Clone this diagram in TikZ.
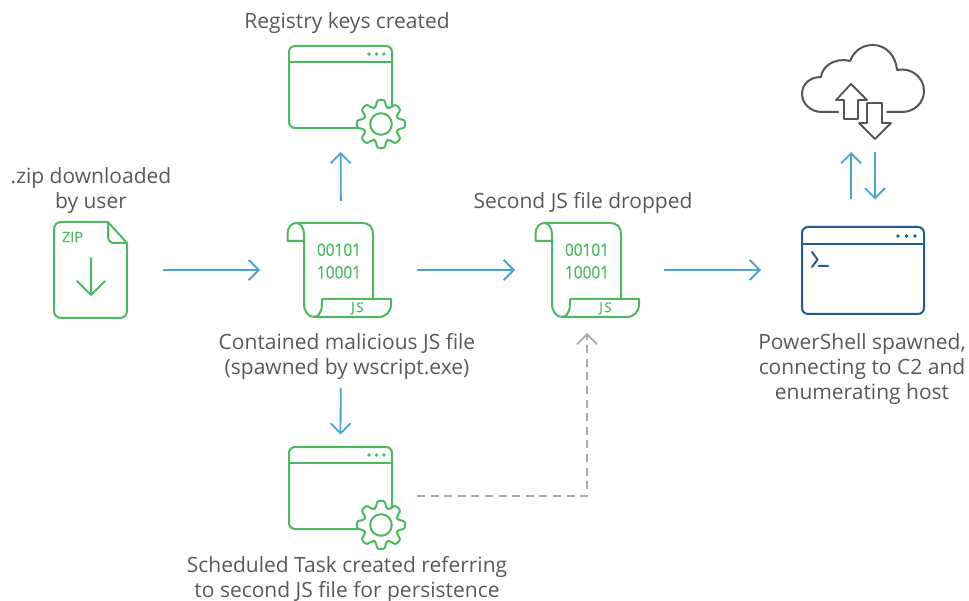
\documentclass[tikz,border=0pt]{standalone}
\usepackage{fontspec}
\setmainfont{Open Sans}
\newfontfamily\iconfont[FakeBold=0.6]{Open Sans}
\newfontfamily\codefont[FakeBold=0.6,FakeStretch=0.88]{Open Sans}
\usetikzlibrary{arrows.meta}
\definecolor{grn}{HTML}{4DB85F}
\definecolor{blu}{HTML}{4BA3CF}
\definecolor{nvy}{HTML}{1F5C92}
\definecolor{txt}{HTML}{58595B}
\definecolor{gry}{HTML}{ABABAB}
\definecolor{cld}{HTML}{555555}
\tikzset{
  x=1pt,y=-1pt,
  flow/.style={draw=blu,line width=1.8pt,-{Straight Barb[length=10pt,width=20pt,line width=1.8pt]}},
  dashflow/.style={draw=gry,line width=1.8pt,dash pattern=on 8pt off 5.6pt,-{Straight Barb[length=10pt,width=20pt,line width=1.8pt]}},
  lab/.style={font=\fontsize{21}{25}\selectfont,text=txt,align=center,inner sep=0pt},
  iconbox/.style={inner sep=0pt,outer sep=0pt,draw=none,rectangle},
  gline/.style={draw=grn,line width=2pt,line join=round,line cap=round},
  nline/.style={draw=nvy,line width=2pt,line join=round,line cap=round},
  cline/.style={draw=cld,line width=2pt,line join=round},
  code/.style={font=\codefont\fontsize{17.5}{22.5}\selectfont,text=grn,inner sep=0pt,align=center},
}
\newcommand{\gearicon}[2]{%
  \begin{scope}[shift={(#1,#2)}]
    \gdef\gearp{}%
    \foreach \a in {0,45,...,315}{%
      \pgfmathsetmacro\pa{\a-17}\pgfmathsetmacro\pb{\a-9}%
      \pgfmathsetmacro\pc{\a+9}\pgfmathsetmacro\pd{\a+17}%
      \xdef\gearp{\gearp (\pa:17.5) -- (\pb:24.5) -- (\pc:24.5) -- (\pd:17.5) -- }%
    }%
    \edef\gearcmd{\noexpand\draw[gline,fill=white,rounded corners=2.5pt] \gearp cycle;}\gearcmd
    \draw[gline] (0,0) circle (10.8);
  \end{scope}}
\newcommand{\windowicon}[1]{%
  \begin{scope}[shift={(0,#1)}]
    \draw[gline,rounded corners=6pt] (289,46) rectangle (392,128);
    \draw[gline] (289,62) -- (392,62);
    \fill[grn] (369,54) circle (1.8) (376.5,54) circle (1.8) (384,54) circle (1.8);
  \end{scope}%
  \pgfmathsetmacro\gy{124+#1}%
  \gearicon{381}{\gy}}
\newcommand{\scrollicon}[1]{%
  \begin{scope}[shift={(#1,0)}]
    \draw[gline] (304,241) -- (287.5,241) -- (287.5,234) .. controls (287.5,227) and (292,223) .. (296,223)
      -- (362,223) .. controls (369,223) and (373,227) .. (373,234) -- (373,299);
    \draw[gline] (296,223) .. controls (300,223) and (304,227) .. (304,234) -- (304,304)
      .. controls (304,312) and (309,317) .. (314,317)
      .. controls (319,317) and (322,311) .. (322,304) -- (322,299) -- (391,299) -- (391,304)
      .. controls (391,312) and (386,317) .. (378,317) -- (314,317);
    \node[code] at (339,261) {00101\\[0pt]10001};
    \node[font=\iconfont\fontsize{13.5}{16}\selectfont,text=grn,inner sep=0pt] at (357.5,308.5) {J\kern1.5pt S};
  \end{scope}}
\begin{document}
\begin{tikzpicture}
\useasboundingbox (0,0) rectangle (969,601);
% invisible anchors for the icons
\node[iconbox,minimum width=73pt,minimum height=96pt] (zip) at (90.5,270) {};
\node[iconbox,minimum width=104pt,minimum height=94pt] (jsa) at (339,270) {};
\node[iconbox,minimum width=104pt,minimum height=94pt] (jsb) at (587,270) {};
\node[iconbox,minimum width=122pt,minimum height=87pt] (term) at (863,270) {};
\node[iconbox,minimum width=103pt,minimum height=82pt] (wina) at (340.5,87) {};
\node[iconbox,minimum width=103pt,minimum height=82pt] (winb) at (340.5,487.5) {};
\node[iconbox,minimum width=122pt,minimum height=94pt] (cloud) at (863,92) {};
% zip
\draw[gline,rounded corners=7pt] (108,222) -- (54,222) -- (54,318) -- (127,318) -- (127,243);
\draw[gline] (108,222) -- (127,243);
\draw[gline] (108,222) -- (108,236) .. controls (108,240) and (110,243) .. (114,243) -- (127,243);
\node[font=\iconfont\fontsize{14.5}{16}\selectfont,text=grn,inner sep=0pt] at (72.5,237) {ZIP};
\draw[gline] (91,258) -- (91,295) (77,281) -- (91,295) -- (105,281);
% scrolls
\scrollicon{0}
\scrollicon{248}
% windows
\windowicon{0}
\windowicon{401}
% terminal
\draw[nline,rounded corners=6pt] (802,227) rectangle (924,314);
\draw[nline] (802,244) -- (924,244);
\fill[nvy] (898,236) circle (1.8) (906.5,236) circle (1.8) (915,236) circle (1.8);
\draw[nline] (812,252) -- (817.5,259.5) -- (812,267) (818.5,266) -- (828,266);
% cloud
\draw[cline,line cap=round] (838,112) -- (822,112)
  .. controls (810,112) and (802,103) .. (802,94)
  .. controls (802,84) and (810,77) .. (821,77)
  .. controls (822,67) and (834,57) .. (850,61)
  .. controls (854,51) and (862,45) .. (873,45)
  .. controls (886,45) and (896,56) .. (897,70)
  .. controls (912,67) and (924,78) .. (924,91)
  .. controls (924,103) and (914,112) .. (902,112) -- (887,112);
\draw[cline,line width=1.8pt,miter limit=8] (844,119) -- (844,100) -- (836,100) -- (851,84) -- (867,100) -- (858,100) -- (858,119) -- cycle;
\draw[cline,line width=1.8pt,miter limit=8] (867,103) -- (867,123) -- (859,123) -- (875,139) -- (891,123) -- (882,123) -- (882,103) -- cycle;
% connectors
\draw[flow,shorten <=36pt,shorten >=27pt] (zip.east) -- (jsa.west);
\draw[flow,shorten <=26pt,shorten >=20pt] (jsa.east) -- (jsb.west);
\draw[flow,shorten <=25pt,shorten >=41pt] (jsb.east) -- (term.west);
\draw[flow,shorten <=22pt,shorten >=24pt] ([xshift=2pt]jsa.north) -- (wina.south);
\draw[flow,shorten <=71pt,shorten >=12pt] ([xshift=2pt]jsa.south) -- (winb.north);
\draw[flow,shorten <=27pt,shorten >=13pt] ([xshift=-12pt]term.north) -- ([xshift=-12pt]cloud.south);
\draw[flow,shorten <=13pt,shorten >=27pt] ([xshift=12pt]cloud.south) -- ([xshift=12pt]term.north);
\draw[dashflow,shorten >=16pt] ([xshift=25pt,yshift=-8.5pt]winb.east) -| (jsb.south);
% labels
\node[lab] (l1) at (91,190.5) {.zip downloaded\\by user};
\node[lab] (l2) at (347,23) {Registry keys created};
\node[lab] (l3) at (347,356.5) {Contained malicious JS file\\(spawned by wscript.exe)};
\node[lab] (l4) at (583,203) {Second JS file dropped};
\node[lab] (l5) at (862,369) {PowerShell spawned,\\connecting to C2 and\\enumerating host};
\node[lab] (l6) at (347,579.5) {Scheduled Task created referring\\to second JS file for persistence};
\end{tikzpicture}
\end{document}
